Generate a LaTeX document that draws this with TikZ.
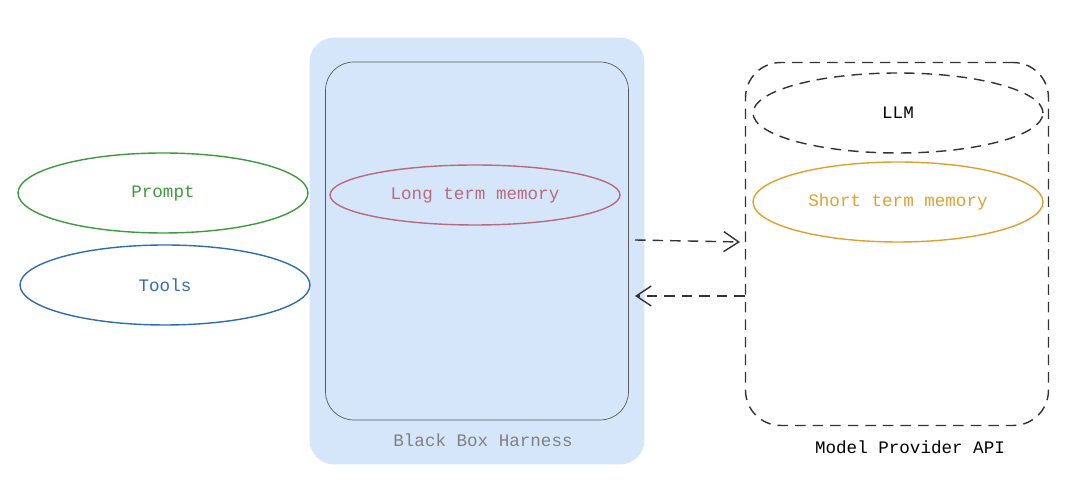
\documentclass[tikz,border=0pt]{standalone}
\usepackage{fontspec}
\setmainfont{Liberation Mono}
\usetikzlibrary{positioning,arrows.meta,shapes.geometric}
\definecolor{harnessblue}{HTML}{D6E6FA}
\definecolor{promptgreen}{HTML}{3E9A3E}
\definecolor{toolsblue}{HTML}{2F6DB0}
\definecolor{memrose}{HTML}{B86A7E}
\definecolor{shortorange}{HTML}{E0A030}

\begin{document}
\begin{tikzpicture}[
  x=0.02cm, y=-0.02cm,
  >={Straight Barb[length=3mm,width=4mm]},
  font=\fontsize{10}{12}\selectfont,
  oval/.style={
    ellipse, draw, thick, minimum width=5.8cm, minimum height=1.6cm, inner sep=0pt
  },
  arrow/.style={->, thick, dashed, dash pattern=on 6pt off 4pt, draw=black!80},
  caption/.style={font=\fontsize{10}{12}\selectfont}
]
\useasboundingbox (0,0) rectangle (1080,502);

% harness
\node (harness) [fill=harnessblue, rounded corners=14pt, minimum width=6.7cm,
  minimum height=8.54cm, inner sep=0pt] at (477,251) {};
\node (inner) [draw=black!65, rounded corners=16pt, minimum width=6.06cm,
  minimum height=7.16cm, inner sep=0pt] at (477,241) {};
\node (longmem) [ellipse, draw=memrose, thick, text=memrose, minimum width=5.8cm,
  minimum height=1.2cm] at (475,195) {Long term memory};
\node (harnesslbl) [caption, text=black!50] at (483,440) {Black Box Harness};

% inputs
\node (prompt) [oval, draw=promptgreen, text=promptgreen] at (163,193) {Prompt};
\node (tools) [oval, draw=toolsblue, text=toolsblue] at (165,285) {Tools};

% provider
\node (provider) [draw=black!80, thick, dashed, dash pattern=on 6pt off 4pt,
  rounded corners=20pt, minimum width=6.06cm, minimum height=7.26cm,
  inner sep=0pt] at (897,244) {};
\node (llm) [oval, draw=black!80, dashed, dash pattern=on 6pt off 4pt] at (898,113) {LLM};
\node (shortmem) [oval, draw=shortorange, text=shortorange] at (898,202) {Short term memory};
\node (providerlbl) [caption] at (910,447) {Model Provider API};

\coordinate (out1) at (635,240);
\coordinate (in1) at (740,242);
\coordinate (out2) at (745,296);
\coordinate (in2) at (635,296);
\draw[arrow] (out1) -- (in1);
\draw[arrow] (out2) -- (in2);
\end{tikzpicture}
\end{document}
